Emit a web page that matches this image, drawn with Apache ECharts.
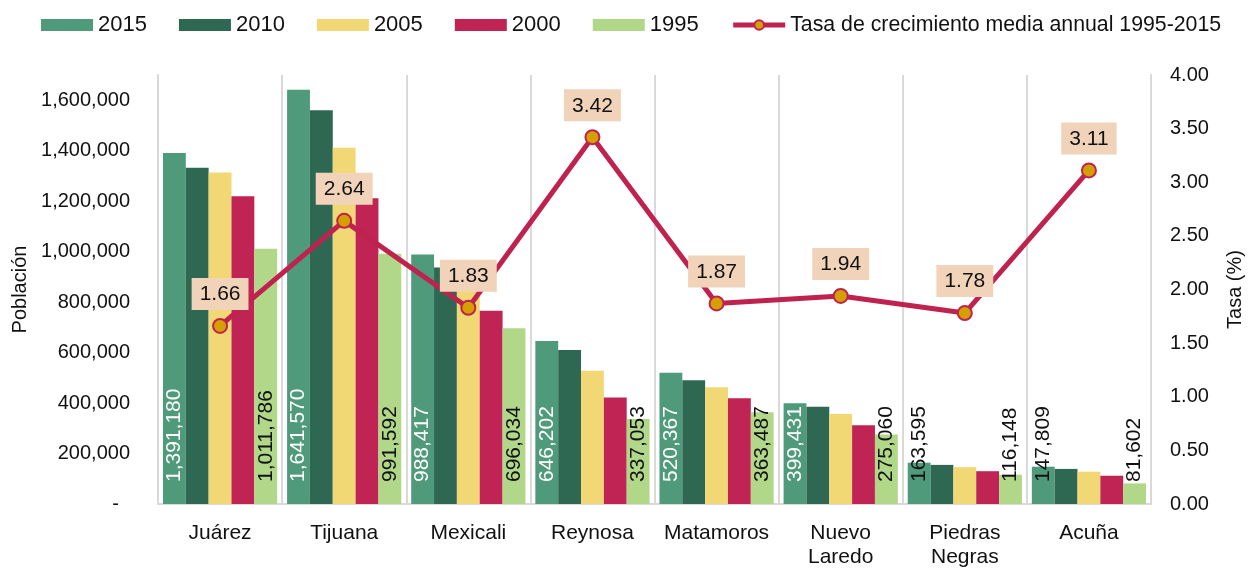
<!DOCTYPE html>
<html>
<head>
<meta charset="utf-8">
<script src="https://cdn.jsdelivr.net/npm/echarts@6/dist/echarts.min.js"></script>
<style>html,body{margin:0;padding:0;background:#fff;overflow:hidden;}#c{width:1253px;height:569px;}</style>
</head>
<body>
<div id="c"></div>
<script>
var categories = ['Juárez','Tijuana','Mexicali','Reynosa','Matamoros','Nuevo\nLaredo','Piedras\nNegras','Acuña'];
var pop2015 = [1391180,1641570,988417,646202,520367,399431,163595,147809];
var pop2010 = [1332000,1560000,937000,610000,490000,385000,155000,139000];
var pop2005 = [1314000,1412000,856000,528000,463000,357000,146000,128000];
var pop2000 = [1220000,1212000,766000,422000,419000,312000,130000,112000];
var pop1995 = [1011786,991592,696034,337053,363487,275060,116148,81602];
var rate = [1.66,2.64,1.83,3.42,1.87,1.94,1.78,3.11];
var leftTicks = [0,200000,400000,600000,800000,1000000,1200000,1400000,1600000];
var rightTicks = [0,0.5,1,1.5,2,2.5,3,3.5,4];

var FONT = 'Liberation Sans, Arial, sans-serif';
function fmt(v){ return v.toLocaleString('en-US'); }

// 2015 labels white inside the bar, black when the bar is too short
var darkIdx2015 = [6,7];
function labeled(arr, whiteDefault){
  return arr.map(function(v,i){
    var col = whiteDefault ? (darkIdx2015.indexOf(i) >= 0 ? '#111' : '#fff') : '#111';
    return {value: v, label: {color: col}};
  });
}
var barLabel = {
  show: true, position: 'insideBottom', distance: 22, rotate: 90,
  align: 'left', verticalAlign: 'middle', fontSize: 21, fontFamily: FONT,
  formatter: function(p){ return fmt(p.value); }
};

var chart = echarts.init(document.getElementById('c'), null, {renderer: 'canvas', width: 1253, height: 569});
chart.setOption({
  animation: false,
  backgroundColor: '#fff',
  textStyle: {fontFamily: FONT},
  legend: {
    top: 9, left: 36, itemWidth: 52, itemHeight: 12, itemGap: 32,
    textStyle: {fontSize: 22, color: '#111', fontFamily: FONT},
    data: [
      {name: '2015', icon: 'rect'}, {name: '2010', icon: 'rect'}, {name: '2005', icon: 'rect'},
      {name: '2000', icon: 'rect'}, {name: '1995', icon: 'rect'},
      {name: 'Tasa de crecimiento media annual 1995-2015', lineStyle: {width: 5, color: '#C0224F'},
        itemStyle: {color: '#D4A000', borderColor: '#C0224F', borderWidth: 2},
        textStyle: {fontSize: 21.3}}
    ]
  },
  grid: {left: 158, right: 100, top: 75, bottom: 59, containLabel: false},
  xAxis: {
    type: 'category', data: categories, boundaryGap: true,
    axisLine: {lineStyle: {color: '#d9d9d9', width: 2}},
    axisTick: {show: false},
    axisLabel: {fontSize: 21, color: '#111', margin: 17, lineHeight: 24, fontFamily: FONT, interval: 0},
    splitLine: {show: true, interval: 0, lineStyle: {color: '#d9d9d9', width: 2}}
  },
  yAxis: [
    {
      type: 'value', min: 0, max: 1700000, interval: 200000,
      name: 'Población', nameLocation: 'middle', nameRotate: 90, nameGap: 120,
      nameTextStyle: {fontSize: 20, color: '#111', fontFamily: FONT},
      axisLine: {show: true, lineStyle: {color: '#d9d9d9', width: 2}},
      axisTick: {show: false},
      splitLine: {show: false},
      axisLabel: {
        fontSize: 20, color: '#111', margin: 28, showMaxLabel: false, fontFamily: FONT,
        formatter: function(v){ return leftTicks.indexOf(v) < 0 ? '' : (v === 0 ? '-  ' : fmt(v)); }
      }
    },
    {
      type: 'value', min: 0, max: 4, interval: 0.5,
      name: 'Tasa (%)', nameLocation: 'middle', nameRotate: 90, nameGap: 74,
      nameTextStyle: {fontSize: 20, color: '#111', fontFamily: FONT},
      axisLine: {show: true, lineStyle: {color: '#d9d9d9', width: 2}},
      axisTick: {show: false},
      splitLine: {show: false},
      axisLabel: {
        fontSize: 20, color: '#111', margin: 19, fontFamily: FONT,
        formatter: function(v){ return rightTicks.indexOf(v) < 0 ? '' : v.toFixed(2); }
      }
    }
  ],
  series: [
    {name: '2015', type: 'bar', barGap: '0%', barCategoryGap: '8%', itemStyle: {color: '#4E9A7A'},
      data: labeled(pop2015, true), label: barLabel},
    {name: '2010', type: 'bar', itemStyle: {color: '#2F6852'}, data: pop2010},
    {name: '2005', type: 'bar', itemStyle: {color: '#F2D775'}, data: pop2005},
    {name: '2000', type: 'bar', itemStyle: {color: '#C02454'}, data: pop2000},
    {name: '1995', type: 'bar', itemStyle: {color: '#B1D788'},
      data: labeled(pop1995, false), label: barLabel},
    {
      name: 'Tasa de crecimiento media annual 1995-2015', type: 'line', yAxisIndex: 1, z: 10,
      data: rate, symbol: 'circle', symbolSize: 14,
      lineStyle: {color: '#C0224F', width: 5},
      itemStyle: {color: '#D4A000', borderColor: '#C0224F', borderWidth: 2},
      label: {
        show: true, position: 'top', distance: 8, fontSize: 21, color: '#111', fontFamily: FONT,
        backgroundColor: '#F0D3B8', padding: [6, 8, 5, 8],
        formatter: function(p){ return p.value.toFixed(2); }
      }
    }
  ]
});
</script>
</body>
</html>
